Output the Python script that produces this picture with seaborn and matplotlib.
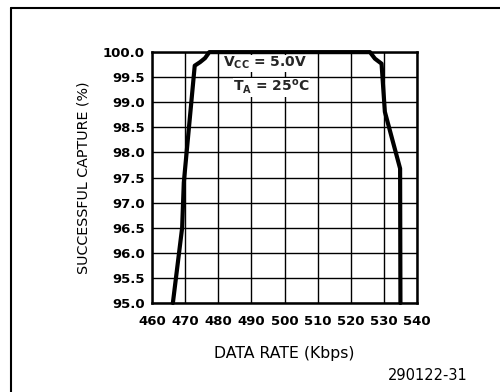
import matplotlib
matplotlib.use("Agg")
import matplotlib.pyplot as plt
import seaborn as sns
import pandas as pd
from matplotlib.lines import Line2D

# curve (left edge, flat top, right edge)
data_rate = [466.3, 469.1, 469.6, 472.9, 474.5, 476.0, 477.3,
             525.8, 527.3, 529.3, 530.3, 534.9, 535.0]
capture = [95.0, 96.5, 97.4, 99.73, 99.8, 99.88, 100.0,
           100.0, 99.87, 99.77, 98.81, 97.68, 95.0]

x_ticks = list(range(460, 541, 10))
y_ticks = [95.0, 95.5, 96.0, 96.5, 97.0, 97.5, 98.0, 98.5, 99.0, 99.5, 100.0]

df = pd.DataFrame({"rate": data_rate, "capture": capture})

sns.set_style("white")
plt.rcParams["font.family"] = ["DejaVu Sans"]
plt.rcParams["font.size"] = 9.5

fig = plt.figure(figsize=(5, 3.92), dpi=100)
ax = fig.add_axes([0.304, 0.227, 0.53, 0.640])

sns.lineplot(data=df, x="rate", y="capture", sort=False, color="black",
             linewidth=3.0, ax=ax, zorder=3, clip_on=False)

ax.set_xlim(460, 540)
ax.set_ylim(95, 100)
ax.set_xticks(x_ticks)
ax.set_yticks(y_ticks)
ax.set_yticklabels([f"{v:.1f}" for v in y_ticks])
ax.grid(True, color="black", linewidth=1.0)
ax.tick_params(axis="both", length=0, labelsize=9.5, labelcolor="black")
ax.tick_params(axis="x", pad=8.5)
ax.tick_params(axis="y", pad=5)
for lab in ax.get_xticklabels() + ax.get_yticklabels():
    lab.set_fontweight("bold")
for s in ax.spines.values():
    s.set_color("black")
    s.set_linewidth(1.8)

ax.set_xlabel("DATA RATE (Kbps)", fontsize=11.3, color="black", labelpad=13)
ax.set_ylabel("SUCCESSFUL CAPTURE (%)", fontsize=10.3, color="black", labelpad=9)

box = dict(facecolor="white", edgecolor="none", pad=0.3)
ax.text(481.4, 99.78, r"V$_{\mathregular{CC}}$ = 5.0V", fontsize=10,
        fontweight="bold", va="center", ha="left", bbox=box, zorder=4)
ax.text(484.5, 99.30, r"T$_{\mathregular{A}}$ = 25$^{\mathregular{o}}$C", fontsize=10,
        fontweight="bold", va="center", ha="left", bbox=box, zorder=4)

fig.text(0.936, 0.043, "290122-31", fontsize=10.5, color="black",
         ha="right", va="center")

# outer frame of the datasheet figure
fig.add_artist(Line2D([0.022, 1.0], [1 - 8 / 392, 1 - 8 / 392],
                      transform=fig.transFigure, color="black", linewidth=1.5))
fig.add_artist(Line2D([0.022, 0.022], [0.0, 1 - 8 / 392],
                      transform=fig.transFigure, color="black", linewidth=1.5))

fig.savefig("out.png", dpi=100, facecolor="white")
